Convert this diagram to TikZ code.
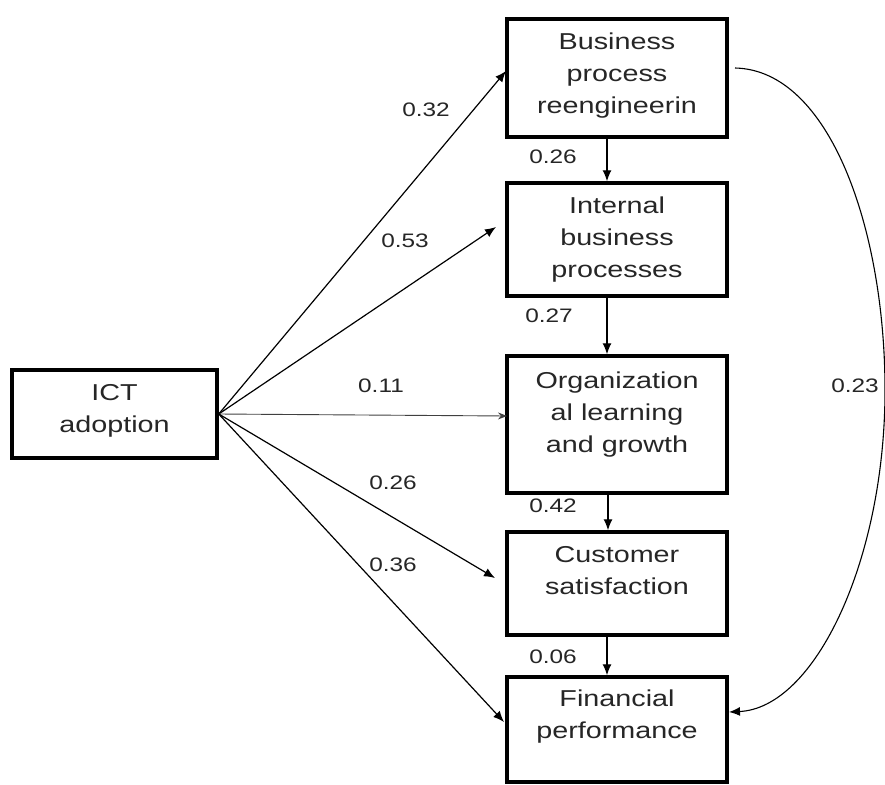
\documentclass[tikz,border=0pt]{standalone}
\usepackage{fontspec}
\setmainfont[FakeStretch=1.25]{Liberation Sans}
\usetikzlibrary{arrows.meta}
\begin{document}
\begin{tikzpicture}[x=1pt,y=-1pt,
  box/.style={draw=black, line width=3.5pt, minimum width=220pt, inner sep=0pt},
  txt/.style={align=center, text=black!85, font=\fontsize{23}{32}\selectfont},
  lab/.style={text=black!85, font=\fontsize{19.5}{22}\selectfont, inner sep=0pt},
  arr/.style={line width=1.2pt, -{Latex[length=11pt,width=9pt]}},
  thinarr/.style={line width=0.9pt, draw=black!75, -{Stealth[length=9pt,width=7pt]}}]
\useasboundingbox (0,0) rectangle (885,784);
% boxes
\node[box, minimum width=205pt, minimum height=88pt] (ict) at (114.5,414) {};
\node[box, minimum height=118pt] (bpr) at (617,78) {};
\node[box, minimum height=113pt] (ibp) at (617,239.5) {};
\node[box, minimum height=137pt] (olg) at (617,424.5) {};
\node[box, minimum height=103pt] (cs) at (617,583.5) {};
\node[box, minimum height=105pt] (fp) at (617,729.5) {};
% texts
\node[txt] (ictt) at (114.5,411) {ICT\\adoption};
\node[txt] (bprt) at (617,76) {Business\\process\\reengineerin};
\node[txt] (ibpt) at (617,240) {Internal\\business\\processes};
\node[txt] (olgt) at (617,415) {Organization\\al learning\\and growth};
\node[txt] (cst) at (617,571) {Customer\\satisfaction};
\node[txt] (fpt) at (617,717) {Financial\\performance};
% end coordinates
\coordinate (e1) at (506,71);
\coordinate (e2) at (496,227);
\coordinate (e3) at (507,416);
\coordinate (e4) at (495,578);
\coordinate (e5) at (504,722);
\coordinate (cstart) at (735,68);
\coordinate (cmid) at (885,390);
\coordinate (cend) at (729,712);
% arrows from ICT
\draw[arr] (ict.east) -- (e1);
\draw[arr] (ict.east) -- (e2);
\draw[thinarr] (ict.east) -- (e3);
\draw[arr] (ict.east) -- (e4);
\draw[arr] (ict.east) -- (e5);
% vertical arrows
\draw[arr] (bpr.south -| 607,0) -- (ibp.north -| 607,0);
\draw[arr] (ibp.south -| 607,0) -- (olg.north -| 607,0);
\draw[arr] (olg.south -| 608,0) -- (cs.north -| 608,0);
\draw[arr] (cs.south -| 607,0) -- (fp.north -| 607,0);
% curve
\draw[line width=1.1pt, -{Latex[length=11pt,width=9pt]}] (cstart) .. controls (830,70) and (885,230) .. (cmid) .. controls (885,560) and (815,708) .. (cend);
% labels
\node[lab] (l1) at (426,110) {0.32};
\node[lab] (l2) at (405,241) {0.53};
\node[lab] (l3) at (381,386) {0.11};
\node[lab] (l4) at (393,483) {0.26};
\node[lab] (l5) at (393,565) {0.36};
\node[lab] (l6) at (553,157) {0.26};
\node[lab] (l7) at (549,316) {0.27};
\node[lab] (l8) at (553,506) {0.42};
\node[lab] (l9) at (553,657) {0.06};
\node[lab] (l10) at (855,386) {0.23};
\end{tikzpicture}
\end{document}
